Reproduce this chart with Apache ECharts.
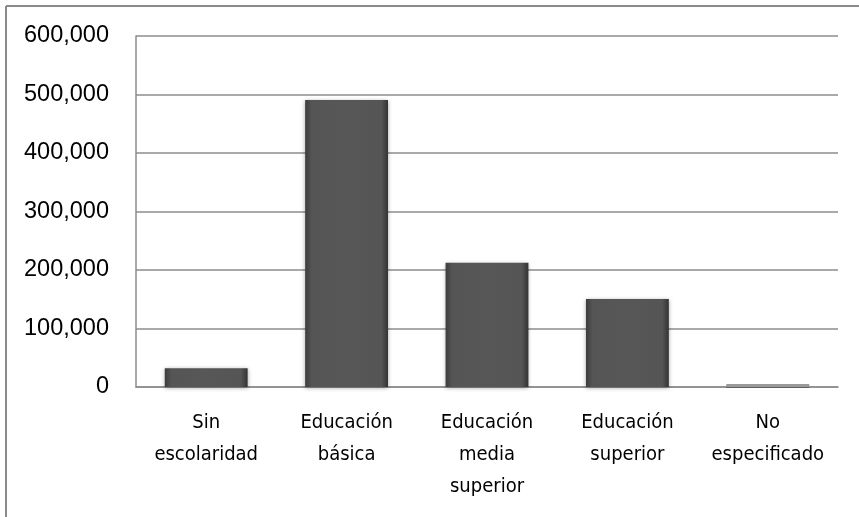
<!DOCTYPE html>
<html><head><meta charset="utf-8">
<script src="https://cdn.jsdelivr.net/npm/echarts@6/dist/echarts.min.js"></script>
<style>html,body{margin:0;padding:0;background:#fff}#c{width:859px;height:517px}</style>
</head><body><div id="c"></div>
<script>
const categories = ['Sin\nescolaridad', 'Educación\nbásica', 'Educación\nmedia\nsuperior', 'Educación\nsuperior', 'No\nespecificado'];
const values = [32000, 490500, 212500, 150500, 5000];
const yTicks = [0, 100000, 200000, 300000, 400000, 500000, 600000];

const chart = echarts.init(document.getElementById('c'));
const font = 'Liberation Sans, Open Sans, sans-serif';
const narrow = '"Liberation Sans Narrow", "DejaVu Sans Condensed", sans-serif';
chart.setOption({
  animation: false,
  backgroundColor: '#fff',
  graphic: [
    {type: 'line', shape: {x1: 6, y1: 6, x2: 859, y2: 6}, style: {stroke: '#8a8a8a', lineWidth: 2}},
    {type: 'line', shape: {x1: 6, y1: 6, x2: 6, y2: 517}, style: {stroke: '#8a8a8a', lineWidth: 2}}
  ],
  grid: {left: 136, right: 21, top: 36, bottom: 130, containLabel: false},
  xAxis: {
    type: 'category',
    data: categories,
    axisLine: {show: true, lineStyle: {color: '#8c8c8c', width: 1.5}},
    axisTick: {show: false},
    axisLabel: {color: '#000', fontSize: 20, fontFamily: narrow, lineHeight: 32, margin: 20, interval: 0}
  },
  yAxis: {
    type: 'value',
    min: yTicks[0],
    max: yTicks[yTicks.length - 1],
    interval: 100000,
    axisLine: {show: true, lineStyle: {color: '#8c8c8c', width: 1.5}},
    axisTick: {show: false},
    splitLine: {show: true, lineStyle: {color: '#8c8c8c', width: 1.5}},
    axisLabel: {color: '#000', fontSize: 23.5, fontFamily: font, margin: 27,
      formatter: v => v.toLocaleString('en-US')}
  },
  series: [{
    type: 'bar',
    data: values.map((v, i) => i === 4 ? {value: v, itemStyle: {color: '#9a9a9a', shadowBlur: 0}} : v),
    barWidth: '59%',
    itemStyle: {
      color: {type: 'linear', x: 0, y: 0, x2: 1, y2: 0, colorStops: [
        {offset: 0, color: '#3c3c3c'},
        {offset: 0.08, color: '#555'},
        {offset: 0.5, color: '#575757'},
        {offset: 0.92, color: '#555'},
        {offset: 1, color: '#333'}
      ]},
      shadowColor: 'rgba(0,0,0,0.35)',
      shadowBlur: 4,
      shadowOffsetY: 1
    }
  }]
});
</script></body></html>
